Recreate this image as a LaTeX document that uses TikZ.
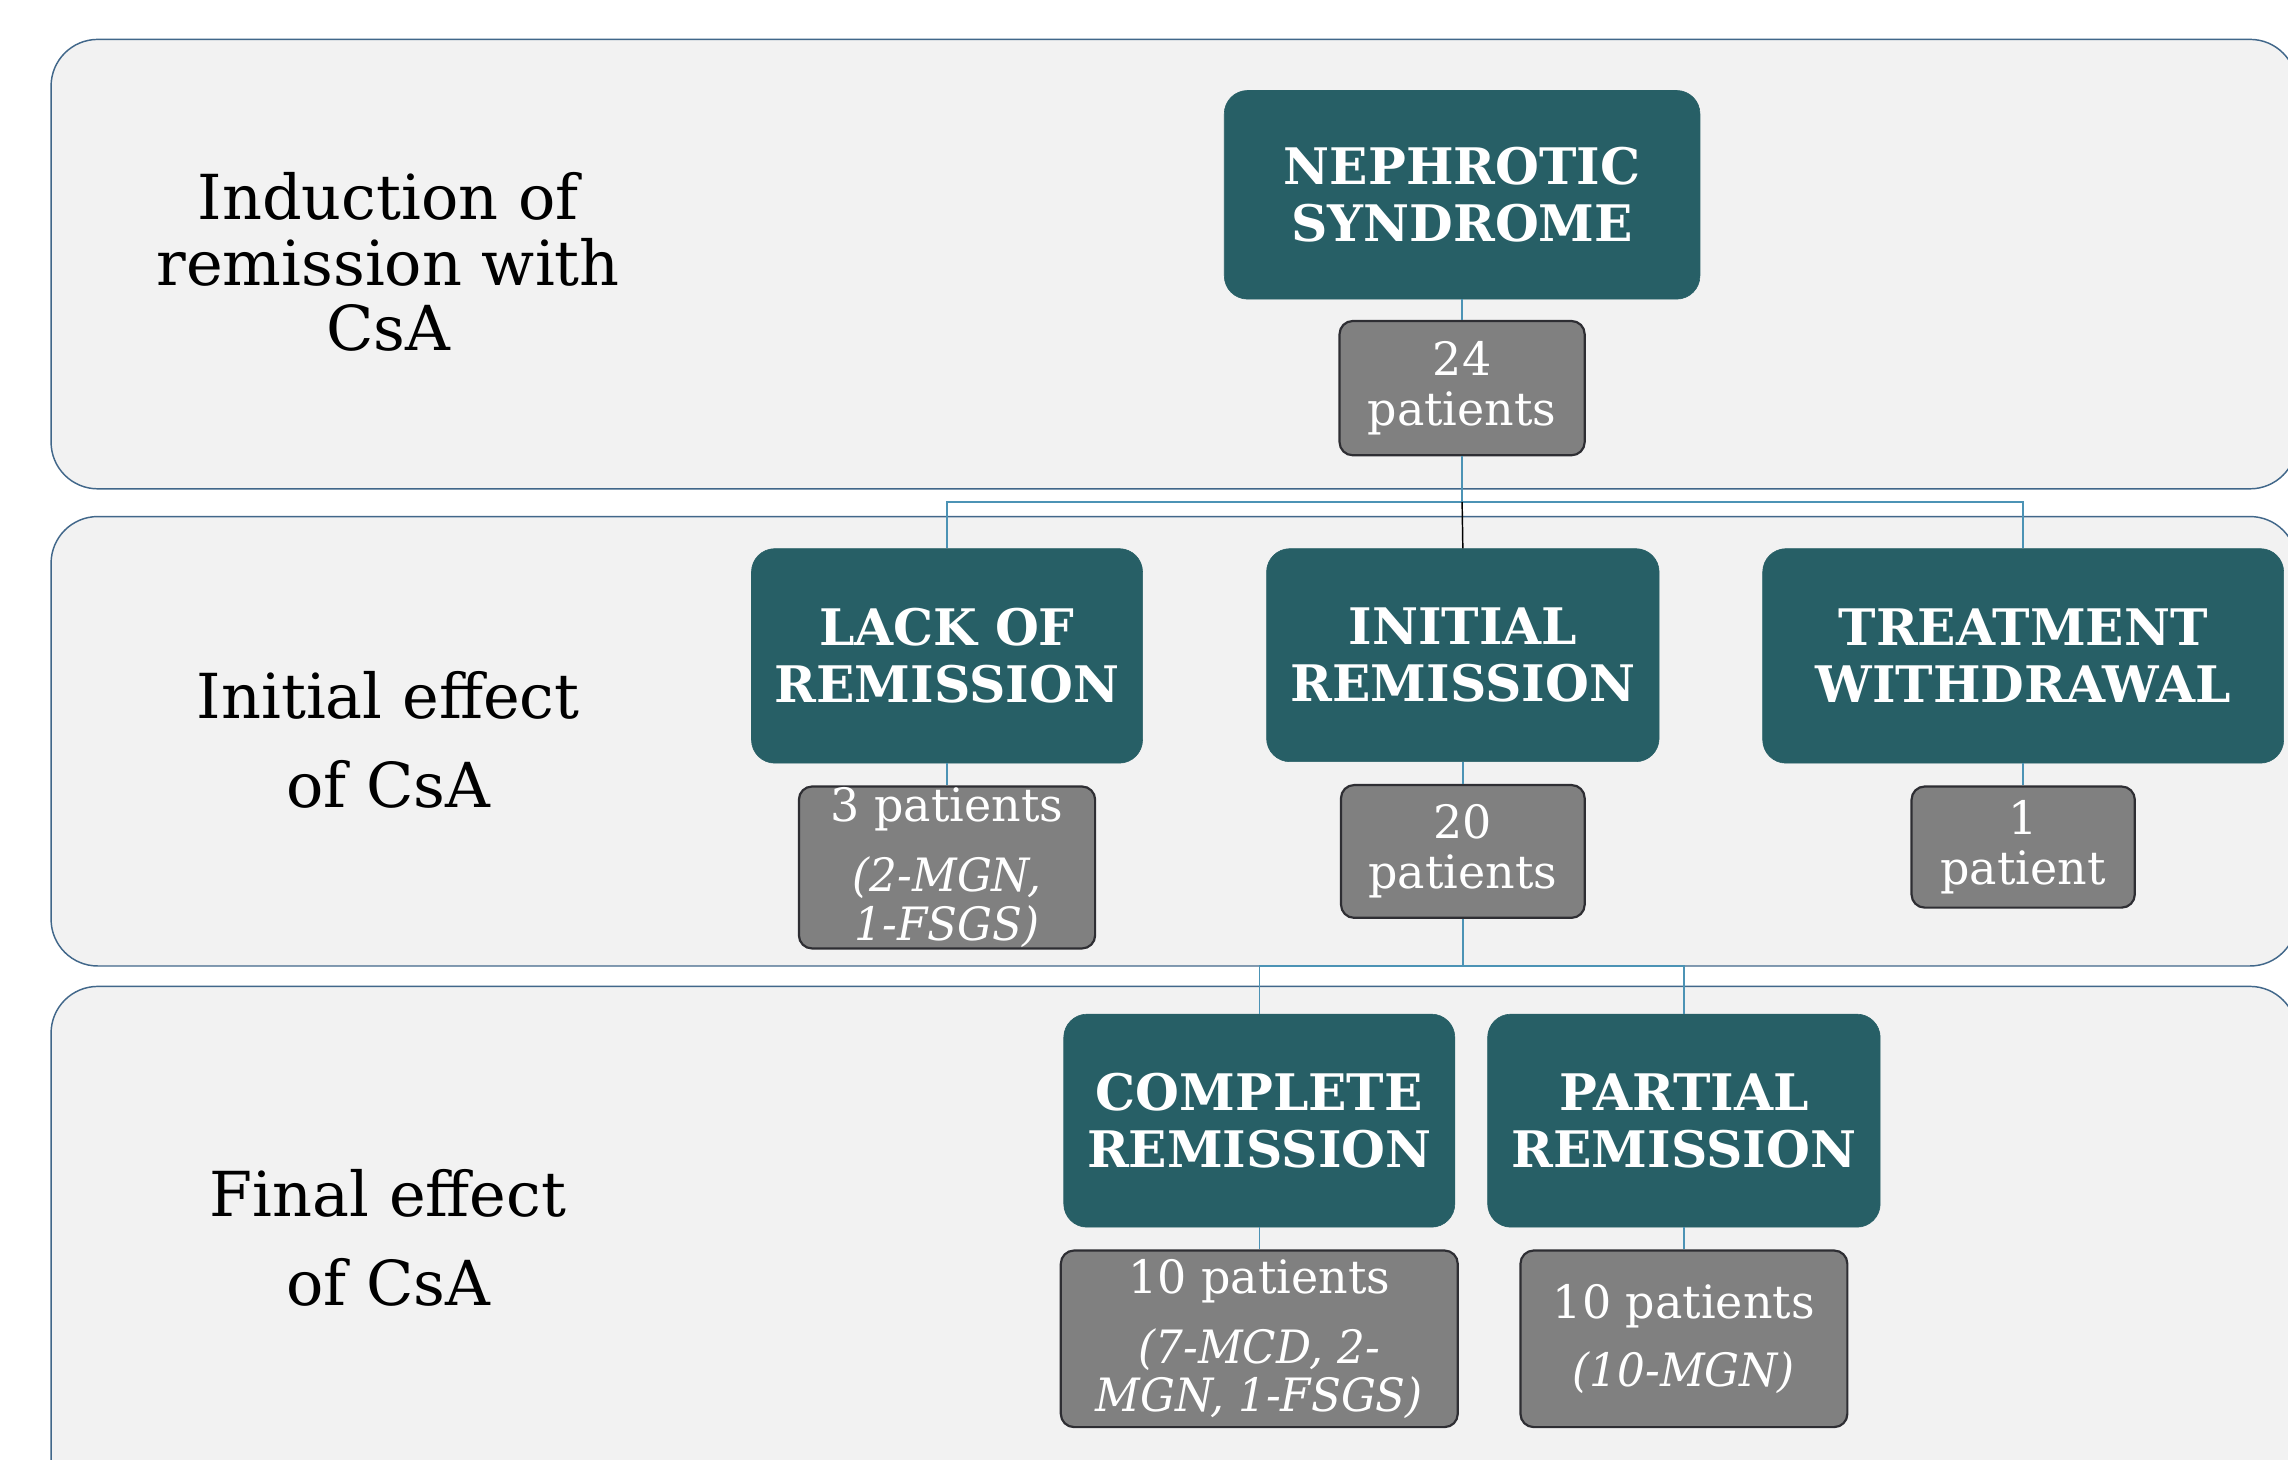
\documentclass[tikz,border=0pt]{standalone}
\usepackage{fontspec}
\setmainfont{DejaVu Serif}[ItalicFeatures={FakeStretch=0.95}]
\definecolor{bandfill}{HTML}{F2F2F2}
\definecolor{bandline}{HTML}{41678A}
\definecolor{tealbox}{HTML}{275F66}
\definecolor{greybox}{HTML}{808080}
\definecolor{greyline}{HTML}{2E2E33}
\definecolor{connblue}{HTML}{4C93B5}
\tikzset{
  band/.style={draw=bandline, fill=bandfill, line width=1pt, rounded corners=32pt},
  lbl/.style={align=center, text=black, inner sep=0pt},
  titlebox/.style={fill=tealbox, draw=tealbox, rounded corners=16pt, text=white, align=center, inner sep=0pt,
    font=\fontsize{34.5}{39}\selectfont\bfseries},
  countbox/.style={fill=greybox, draw=greyline, line width=1.5pt, rounded corners=9pt, text=white, align=center, inner sep=0pt,
    font=\fontsize{31.5}{34}\selectfont},
  conn/.style={draw=connblue, line width=1pt}
}
\begin{document}
\begin{tikzpicture}[x=1pt,y=-1pt]
\useasboundingbox (0,0) rectangle (1568,1000);
\clip (0,0) rectangle (1568,1000);
\fill[white] (0,0) rectangle (1568,1000);
% bands
\draw[band] (35,27) rectangle (1574,335);
\draw[band] (35,354) rectangle (1574,662);
\draw[band] (35,676) rectangle (1574,1040);
% labels
\node[lbl, font=\fontsize{42.5}{45}\selectfont] (l1) at (266,179.5) {Induction of\\remission with\\CsA};
\node[lbl, font=\fontsize{42.5}{61}\selectfont] (l2) at (266,507) {Initial effect\\of CsA};
\node[lbl, font=\fontsize{42.5}{61}\selectfont] (l3) at (266,848) {Final effect\\of CsA};
% coordinates for buses
\coordinate (bus1) at (1002,344);
\coordinate (bus2) at (1002.5,662);
% nodes
\node[titlebox, minimum width=326pt, minimum height=143pt] (ns) at (1002,133.5) {NEPHROTIC\\SYNDROME};
\node[countbox, minimum width=168pt, minimum height=92pt] (p24) at (1002,266) {24\\patients};
\node[titlebox, minimum width=268pt, minimum height=147pt] (lack) at (649,449.5) {LACK OF\\REMISSION};
\node[titlebox, minimum width=269pt, minimum height=146pt] (init) at (1002.5,449) {INITIAL\\REMISSION};
\node[titlebox, minimum width=357pt, minimum height=147pt] (treat) at (1386.5,449.5) {TREATMENT\\WITHDRAWAL};
\node[countbox, minimum width=203pt, minimum height=111pt, font=\fontsize{31.5}{33}\selectfont] (p3) at (649,594.5) {3 patients\\[15pt]\textit{(2-MGN,}\\\textit{1-FSGS)}};
\node[countbox, minimum width=167pt, minimum height=91pt] (p20) at (1002.5,583.5) {20\\patients};
\node[countbox, minimum width=153pt, minimum height=83pt] (p1) at (1386.5,580.5) {1\\patient};
\node[titlebox, minimum width=268pt, minimum height=146pt] (comp) at (863,768) {COMPLETE\\REMISSION};
\node[titlebox, minimum width=269pt, minimum height=146pt] (part) at (1154,768) {PARTIAL\\REMISSION};
\node[countbox, minimum width=272pt, minimum height=121pt, font=\fontsize{31.5}{33}\selectfont] (p10c) at (863,917.5) {10 patients\\[15pt]\textit{(7-MCD, 2-}\\\textit{MGN, 1-FSGS)}};
\node[countbox, minimum width=224pt, minimum height=121pt] (p10p) at (1154,917.5) {10 patients\\[13pt]\textit{(10-MGN)}};
% connectors
\draw[conn] (ns.south) -- (p24.north);
\draw[conn] (p24.south) -- (bus1);
\draw[conn] (bus1) -| (lack.north);
\draw[conn] (bus1) -| (treat.north);
\draw[draw=black, line width=1pt] (bus1) -- (init.north);
\draw[conn] (lack.south) -- (p3.north);
\draw[conn] (init.south) -- (p20.north);
\draw[conn] (treat.south) -- (p1.north);
\draw[conn] (p20.south) -- (bus2);
\draw[conn] (bus2) -| (comp.north);
\draw[conn] (bus2) -| (part.north);
\draw[conn] (comp.south) -- (p10c.north);
\draw[conn] (part.south) -- (p10p.north);
\end{tikzpicture}
\end{document}
